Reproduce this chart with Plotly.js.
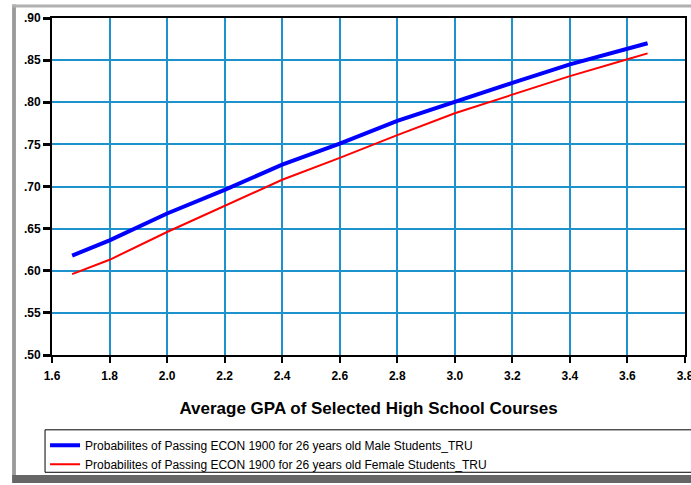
<!DOCTYPE html>
<html>
<head>
<meta charset="utf-8">
<script src="https://cdn.plot.ly/plotly-3.0.1.min.js"></script>
<style>html,body{margin:0;padding:0;background:#fff;}#chart{width:691px;height:485px;}</style>
</head>
<body>
<div id="chart"></div>
<script>
const gpa = [1.67, 1.8, 2.0, 2.2, 2.4, 2.6, 2.8, 3.0, 3.2, 3.4, 3.6, 3.67];
const maleProb = [0.618, 0.636, 0.668, 0.696, 0.726, 0.751, 0.778, 0.801, 0.823, 0.845, 0.863, 0.870];
const femaleProb = [0.596, 0.613, 0.646, 0.677, 0.708, 0.734, 0.761, 0.787, 0.809, 0.831, 0.851, 0.858];
const xTickVals = [1.6, 1.8, 2.0, 2.2, 2.4, 2.6, 2.8, 3.0, 3.2, 3.4, 3.6, 3.8];
const xTickLabels = ["1.6", "1.8", "2.0", "2.2", "2.4", "2.6", "2.8", "3.0", "3.2", "3.4", "3.6", "3.8"];
const yTickVals = [0.50, 0.55, 0.60, 0.65, 0.70, 0.75, 0.80, 0.85, 0.90];
const yTickLabels = [".50", ".55", ".60", ".65", ".70", ".75", ".80", ".85", ".90"];
const maleName = "Probabilites of Passing ECON 1900 for 26 years old Male Students_TRU";
const femaleName = "Probabilites of Passing ECON 1900 for 26 years old Female Students_TRU";
const xTitle = "Average GPA of Selected High School Courses";

const traces = [
  {x: gpa, y: maleProb, type: 'scatter', mode: 'lines', name: maleName,
   line: {color: '#0000ff', width: 4}},
  {x: gpa, y: femaleProb, type: 'scatter', mode: 'lines', name: femaleName,
   line: {color: '#ff0000', width: 2}}
];

const tickFont = {family: 'Liberation Sans, Arial, sans-serif', size: 12, color: '#000', weight: 700};
const gridColor = 'rgb(30,146,204)';

const layout = {
  width: 691, height: 485,
  margin: {l: 52, r: 6, t: 18, b: 125},
  paper_bgcolor: '#fff', plot_bgcolor: '#fff',
  showlegend: true,
  xaxis: {
    range: [1.6, 3.8], tickvals: xTickVals, ticktext: xTickLabels,
    showgrid: true, gridcolor: gridColor, gridwidth: 2,
    showline: true, linecolor: '#000', linewidth: 2, mirror: true,
    ticks: 'outside', ticklen: 6, tickwidth: 2, tickcolor: '#000',
    tickfont: tickFont, zeroline: false, ticklabeloverflow: 'allow', ticklabelstandoff: 3,
    title: {text: xTitle, font: {family: 'Liberation Sans, Arial, sans-serif', size: 17, color: '#000', weight: 700}, standoff: 20}
  },
  yaxis: {
    range: [0.5, 0.9], tickvals: yTickVals, ticktext: yTickLabels,
    showgrid: true, gridcolor: gridColor, gridwidth: 2,
    showline: true, linecolor: '#000', linewidth: 2, mirror: true,
    ticks: 'outside', ticklen: 7, tickwidth: 3, tickcolor: '#000',
    tickfont: tickFont, zeroline: false, ticklabeloverflow: 'allow'
  },
  legend: {
    x: -0.011, y: -0.225, xanchor: 'left', yanchor: 'top',
    bgcolor: 'rgba(0,0,0,0)', borderwidth: 0,
    font: {family: 'Liberation Sans, Arial, sans-serif', size: 12, color: '#000'},
    tracegroupgap: 0
  },
  shapes: [
    {type: 'rect', xref: 'paper', yref: 'paper', x0: -0.011, x1: 1.05, y0: -0.348, y1: -0.222,
     line: {color: '#000', width: 1}, fillcolor: '#fff', layer: 'below'},
    {type: 'rect', xref: 'paper', yref: 'paper', x0: -0.063, x1: -0.057, y0: -0.37, y1: 1.04,
     line: {width: 0}, fillcolor: '#9a9a9a', layer: 'below'},
    {type: 'rect', xref: 'paper', yref: 'paper', x0: -0.063, x1: 1.05, y0: 1.031, y1: 1.04,
     line: {width: 0}, fillcolor: '#b0b0b0', layer: 'below'},
    {type: 'rect', xref: 'paper', yref: 'paper', x0: -0.063, x1: 1.05, y0: -0.38, y1: -0.356,
     line: {width: 0}, fillcolor: '#666666', layer: 'below'}
  ]
};

Plotly.newPlot('chart', traces, layout, {displayModeBar: false, staticPlot: true});
</script>
</body>
</html>
